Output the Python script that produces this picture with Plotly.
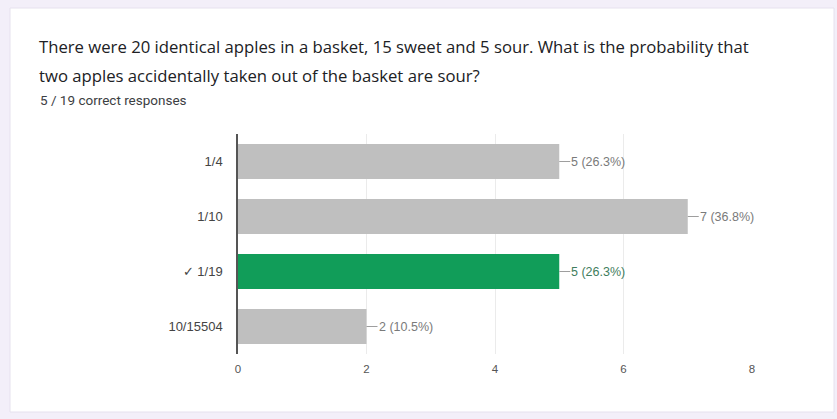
import plotly.graph_objects as go

categories = ["1/4", "1/10", "\u2713 1/19", "10/15504"]
counts = [5, 7, 5, 2]
percents = [26.3, 36.8, 26.3, 10.5]
correct = [False, False, True, False]
x_ticks = [0, 2, 4, 6, 8]

title_line1 = "There were 20 identical apples in a basket, 15 sweet and 5 sour. What is the probability that"
title_line2 = "two apples accidentally taken out of the basket are sour?"
subtitle = "5 / 19 correct responses"

W, H = 837, 419
L, R, T, B = 238, 85, 134, 65
pw, ph = W - L - R, H - T - B

def px(x):
    return (x - L) / pw

def py(y):
    return (H - B - y) / ph

GREEN = "#119d59"
GRAY = "#bfbfbf"

fig = go.Figure()
fig.add_trace(go.Bar(
    x=counts, y=categories, orientation="h",
    marker=dict(color=[GREEN if c else GRAY for c in correct], line=dict(width=0)),
    hoverinfo="skip",
))

annotations = []
for cat, v, p, c in zip(categories, counts, percents, correct):
    col = "#3f7d5e" if c else "#7a7a7a"
    annotations.append(dict(
        x=v, y=cat, xref="x", yref="y",
        text=f"{v} ({p}%)", showarrow=True, arrowhead=0, arrowwidth=1,
        arrowcolor="#9e9e9e", ax=11, ay=0, axref="pixel", ayref="pixel",
        xanchor="left", yanchor="middle", standoff=0, startstandoff=0,
        font=dict(family="Arial, Liberation Sans", size=12.5, color=col),
        borderpad=0,
    ))

annotations += [
    dict(x=px(37), y=py(46), xref="paper", yref="paper", text=title_line1,
         showarrow=False, xanchor="left", yanchor="middle",
         font=dict(family="Open Sans", size=16.7, color="#202124")),
    dict(x=px(37), y=py(75), xref="paper", yref="paper", text=title_line2,
         showarrow=False, xanchor="left", yanchor="middle",
         font=dict(family="Open Sans", size=16.7, color="#202124")),
    dict(x=px(38), y=py(100), xref="paper", yref="paper", text=subtitle,
         showarrow=False, xanchor="left", yanchor="middle",
         font=dict(family="Roboto", size=13.5, color="#3c4043")),
]

shapes = [
    dict(type="rect", xref="paper", yref="paper", layer="below",
         x0=px(10), x1=px(834), y0=py(412), y1=py(8),
         fillcolor="white", line=dict(color="#e6e1ee", width=1)),
]

fig.update_layout(
    width=W, height=H,
    margin=dict(l=L, r=R, t=T, b=B, pad=0),
    paper_bgcolor="#f3eff9", plot_bgcolor="white",
    showlegend=False, bargap=0.36,
    annotations=annotations, shapes=shapes,
    xaxis=dict(range=[0, 8], tickvals=x_ticks, showgrid=True, gridcolor="#ebebeb",
               gridwidth=1, zeroline=False, showline=False, ticks="",
               tickfont=dict(family="Arial, Liberation Sans", size=11.5, color="#555555"),
               ticklabelstandoff=6, fixedrange=True),
    yaxis=dict(autorange="reversed", showline=True, linecolor="#555555", linewidth=1.5,
               ticks="", showgrid=False,
               tickfont=dict(family="Arial, Liberation Sans", size=13, color="#444444"),
               ticklabelstandoff=11, fixedrange=True),
)

fig.write_html("out.html", config={"displayModeBar": False})
